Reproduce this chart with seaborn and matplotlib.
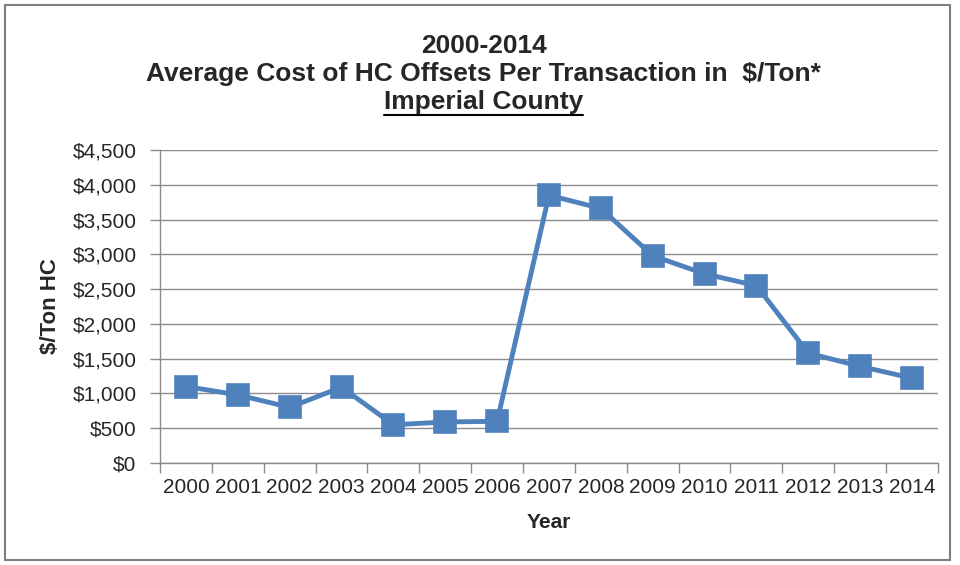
import matplotlib
matplotlib.use("Agg")
import matplotlib.pyplot as plt
from matplotlib.patches import Rectangle
from matplotlib.lines import Line2D
from matplotlib.ticker import FuncFormatter, FixedLocator
import seaborn as sns
import pandas as pd

years = ["2000", "2001", "2002", "2003", "2004", "2005", "2006", "2007",
         "2008", "2009", "2010", "2011", "2012", "2013", "2014"]
cost = [1100, 980, 800, 1090, 550, 590, 600, 3850,
        3660, 2980, 2720, 2550, 1580, 1390, 1220]

title_lines = ["2000-2014",
               "Average Cost of HC Offsets Per Transaction in  $/Ton*",
               "Imperial County"]

df = pd.DataFrame({"year": years, "cost": cost})

sns.set_style("white")
plt.rcParams["font.family"] = ["Liberation Sans", "DejaVu Sans"]

fig = plt.figure(figsize=(9.6, 5.65), dpi=100)
ax = fig.add_axes([0.1667, 0.1805, 0.8103, 0.554])

sns.pointplot(data=df, x="year", y="cost", order=years, color="#4F81BD",
              markers="s", linewidth=3.5, markersize=14, ax=ax, zorder=3)

ax.set_xlim(-0.5, len(years) - 0.5)
ax.set_ylim(0, 4500)
ax.set_yticks(range(0, 4501, 500))
ax.yaxis.set_major_formatter(FuncFormatter(lambda v, p: f"${v:,.0f}"))
ax.grid(axis="y", color="#8C8C8C", linewidth=1)
ax.set_axisbelow(True)

# excel style category ticks between labels
ax.xaxis.set_minor_locator(FixedLocator([i - 0.5 for i in range(len(years) + 1)]))
ax.tick_params(axis="x", which="major", length=0, labelsize=15, pad=11)
ax.tick_params(axis="x", which="minor", length=7, color="#8C8C8C", width=1)
ax.tick_params(axis="y", length=7, color="#8C8C8C", width=1, labelsize=15, pad=10)
ax.tick_params(axis="both", left=True, bottom=True, which="both", direction="out")

for side in ["top", "right"]:
    ax.spines[side].set_visible(False)
for side in ["left", "bottom"]:
    ax.spines[side].set_color("#8C8C8C")
    ax.spines[side].set_linewidth(1)

ax.set_xlabel("Year", fontsize=15, fontweight="bold", labelpad=11)
ax.set_ylabel("$/Ton HC", fontsize=16, fontweight="bold", labelpad=8)

cx = 0.504
fig.text(cx, 1 - 46 / 565, title_lines[0], ha="center", va="center",
         fontsize=19, fontweight="bold")
fig.text(cx, 1 - 74 / 565, title_lines[1], ha="center", va="center",
         fontsize=19, fontweight="bold")
t3 = fig.text(cx, 1 - 102 / 565, title_lines[2], ha="center", va="center",
              fontsize=19, fontweight="bold")

# underline the county line
fig.canvas.draw()
bb = t3.get_window_extent().transformed(fig.transFigure.inverted())
uy = 1 - 115 / 565
fig.add_artist(Line2D([bb.x0, bb.x1], [uy, uy], color="black", linewidth=1.5,
                      transform=fig.transFigure))

# outer chart frame
fig.add_artist(Rectangle((5 / 960, 1 - 560 / 565), 945 / 960, 555 / 565,
                         transform=fig.transFigure, fill=False,
                         edgecolor="#7F7F7F", linewidth=1.5))

fig.savefig("out.png", dpi=100)
